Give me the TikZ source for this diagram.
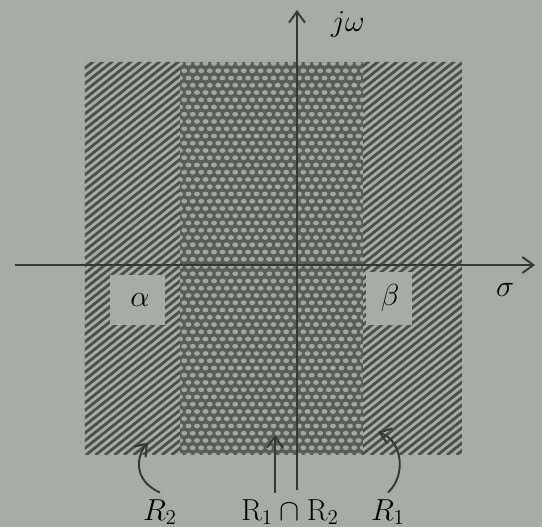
\documentclass[tikz,border=0pt]{standalone}
\usepackage{amsmath}
\usepackage{xcolor}
\usetikzlibrary{arrows.meta}
\definecolor{paper}{HTML}{A9ACA6}
\definecolor{ink}{HTML}{353835}
\definecolor{hatchgray}{HTML}{4C504C}
\definecolor{dotdark}{HTML}{5A5E5A}
\definecolor{dotlight}{HTML}{A4A7A1}

\begin{document}
\begin{tikzpicture}[>={Straight Barb[length=2.2mm,width=3.2mm]}, line width=1.1pt, font=\LARGE]
  \fill[paper] (-5.94,-5.24) rectangle (4.9,5.3);
  \useasboundingbox (-5.94,-5.24) rectangle (4.9,5.3);

  % hatched strips R_2 and R_1
  \begin{scope}
    \clip (-4.24,-3.8) rectangle (-2.34,4.06) (1.32,-3.8) rectangle (3.3,4.06);
    \foreach \x in {-16,-15.81,...,4}
      \draw[hatchgray, line width=1.6pt] (\x,-3.8) -- ++(12,9.6);
  \end{scope}

  % intersection strip
  \begin{scope}
    \clip (-2.34,-3.8) rectangle (1.32,4.06);
    \fill[dotdark] (-2.34,-3.8) rectangle (1.32,4.06);
    \foreach \j in {0,...,55} {
      \pgfmathsetmacro\off{mod(\j,2)*0.085}
      \foreach \i in {0,...,22}
        \fill[dotlight] ({-2.34+\off+0.17*\i},{-3.8+0.145*\j}) ellipse (0.058 and 0.048);
    }
  \end{scope}

  % clear spots behind the labels
  \fill[paper] (-3.74,-1.2) rectangle (-2.64,-0.2);
  \fill[paper] (1.38,-1.2) rectangle (2.3,-0.14);

  % axes
  \draw[ink, ->] (-5.64,0) -- (4.76,0);
  \draw[ink, ->] (0,-4.5) -- (0,5.1);
  \node (jw) at (1.02,4.8) {$j\omega$};
  \node (sig) at (4.16,-0.5) {$\sigma$};
  \node (alpha) at (-3.14,-0.7) {$\alpha$};
  \node (beta) at (1.86,-0.66) {$\mathrm{\beta}$};

  % region labels
  \node (Rtwo) at (-2.74,-4.94) {$R_2$};
  \node (Rcap) at (-0.14,-4.94) {$\mathrm{R}_1\cap\mathrm{R}_2$};
  \node (Rone) at (1.82,-4.94) {$R_1$};
  \coordinate (tiptwo) at (-2.98,-3.55);
  \coordinate (tipcap) at (-0.44,-3.4);
  \coordinate (tipone) at (1.62,-3.34);
  \draw[ink, ->] (Rtwo.north) .. controls (-3.3,-4.3) and (-3.2,-3.8) .. (tiptwo);
  \draw[ink, ->] (Rcap.north -| tipcap) -- (tipcap);
  \draw[ink, ->] (Rone.north) .. controls (2.2,-4.2) and (2.1,-3.5) .. (tipone);
\end{tikzpicture}
\end{document}
